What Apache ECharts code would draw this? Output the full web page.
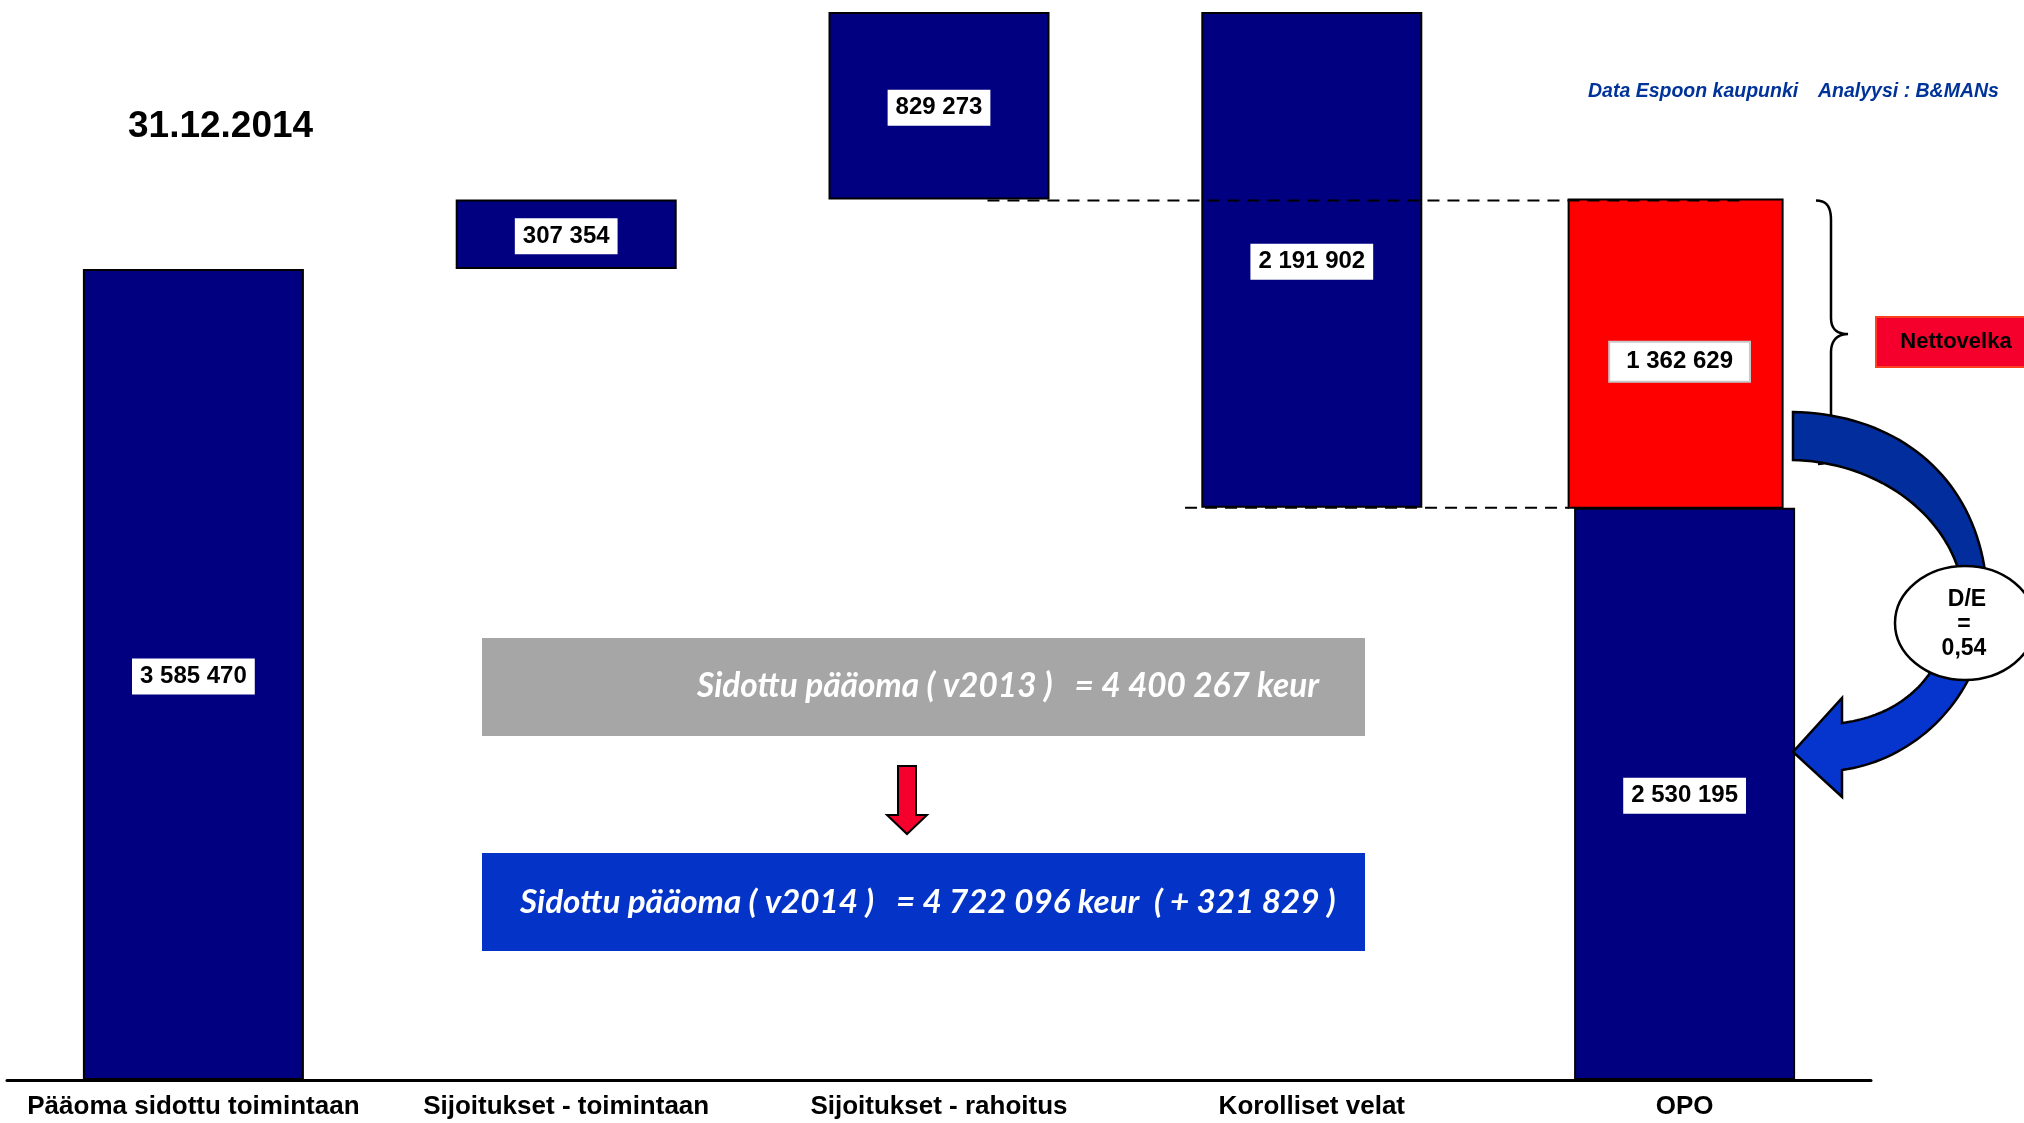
<!DOCTYPE html>
<html><head><meta charset="utf-8">
<script src="https://cdn.jsdelivr.net/npm/echarts@6/dist/echarts.min.js"></script>
<style>html,body{margin:0;padding:0;background:#fff}#c{width:2024px;height:1123px}</style>
</head><body><div id="c"></div>
<script>
// ---- data ----
const categories = ['Pääoma sidottu toimintaan', 'Sijoitukset - toimintaan', 'Sijoitukset - rahoitus', 'Korolliset velat', 'OPO'];
const stepValues = [3585470, 307354, 829273, 2191902, 2530195];
const stepTypes = ['start', 'up', 'up', 'down', 'start'];
const netDebt = [null, null, null, null, 1362629];
const dateLabel = '31.12.2014';
const sourceLabel = 'Data Espoon kaupunki';
const analysisLabel = 'Analyysi : B&MANs';
const netDebtLabel = 'Nettovelka';
const deLines = ['D/E', '=', '0,54'];
const box2013Text = 'Sidottu pääoma ( v2013 )   = 4 400 267 keur';
const box2014Text = 'Sidottu pääoma ( v2014 )   = 4 722 096 keur  ( + 321 829 )';

// ---- derived waterfall bases ----
const bases = [];
let run = 0;
stepTypes.forEach((t, i) => {
  const v = stepValues[i];
  if (t === 'start') { bases.push(0); run = v; }
  else if (t === 'up') { bases.push(run); run += v; }
  else { run -= v; bases.push(run); }
});
const tops = stepValues.map((v, i) => bases[i] + v + (netDebt[i] || 0));
const peak = Math.max(...tops);
const netDebtData = netDebt.map((v, i) => v == null ? null : [i, bases[i] + stepValues[i], v]).filter(d => d);
const fmt = v => String(v).replace(/\B(?=(\d{3})+(?!\d))/g, ' ');
const FONT = '"Liberation Sans", Arial, Helvetica, sans-serif';
const BOXFONT = 'Lato, "Open Sans", sans-serif';

const labelBase = {
  show: true, position: 'inside', formatter: p => fmt(p.value),
  backgroundColor: '#fff', color: '#000', fontFamily: FONT, fontWeight: 'bold',
  fontSize: 24, lineHeight: 24, padding: [6, 8, 6, 8], offset: [0, 2]
};

const chart = echarts.init(document.getElementById('c'), null, { renderer: 'canvas' });
chart.setOption({
  animation: false,
  backgroundColor: '#fff',
  grid: { left: 7, right: 153, top: 12, bottom: 43, containLabel: false },
  xAxis: {
    type: 'category', data: categories,
    axisLine: { lineStyle: { color: '#000', width: 3 } },
    axisTick: { show: false },
    axisLabel: { color: '#000', fontFamily: FONT, fontWeight: 'bold', fontSize: 26, margin: 14, interval: 0 }
  },
  yAxis: { type: 'value', min: 0, max: peak, show: false, splitLine: { show: false } },
  series: [
    { type: 'bar', stack: 'w', data: bases, barWidth: 221, silent: true,
      itemStyle: { color: 'rgba(0,0,0,0)', borderWidth: 0 } },
    { type: 'bar', stack: 'w', data: stepValues, barWidth: 221,
      itemStyle: { color: '#000080', borderColor: '#000', borderWidth: 2 }, label: labelBase },
    { type: 'custom', coordinateSystem: 'cartesian2d', data: netDebtData, encode: { x: 0, y: 1 }, z: 3,
      renderItem: function (params, api) {
        const idx = api.value(0), b = api.value(1), v = api.value(2);
        const p0 = api.coord([idx, b]);
        const p1 = api.coord([idx, b + v]);
        const bw = api.size([1, 0])[0] * 0.574;
        const cx = p0[0] - 9;
        return {
          type: 'group',
          children: [
            { type: 'rect', shape: { x: cx - bw / 2, y: p1[1], width: bw, height: p0[1] - p1[1] },
              style: { fill: '#ff0000', stroke: '#000', lineWidth: 2 } },
            { type: 'text', style: { text: fmt(v), x: cx + 4, y: (p0[1] + p1[1]) / 2 + 8, fill: '#000',
                fontFamily: FONT, fontWeight: 'bold', fontSize: 24, lineHeight: 24, textAlign: 'center', textVerticalAlign: 'middle',
                backgroundColor: '#fff', borderColor: '#c8c8c8', borderWidth: 2, padding: [7, 16, 7, 16] } }
          ]
        };
      }
    }
  ]
});

// ---- annotations ----
const px = (i, v) => chart.convertToPixel({ gridIndex: 0 }, [i, v]);
const band = (2024 - 7 - 153) / categories.length;
const yUpper = px(4, tops[4])[1] + 1;
const yLower = px(4, bases[4] + stepValues[4])[1];
const c2 = px(2, 0)[0], c3 = px(3, 0)[0], c4 = px(4, 0)[0];

function fitSize(text, targetW) {
  const ctx = document.createElement('canvas').getContext('2d');
  ctx.font = 'italic bold 100px ' + BOXFONT;
  return 100 * targetW / ctx.measureText(text).width;
}
const fs2013 = fitSize(box2013Text, 622);
const fs2014 = fitSize(box2014Text, 816);

function cubic(p0, p1, p2, p3, n) {
  const pts = [];
  for (let k = 0; k <= n; k++) {
    const t = k / n, u = 1 - t;
    pts.push([
      u * u * u * p0[0] + 3 * u * u * t * p1[0] + 3 * u * t * t * p2[0] + t * t * t * p3[0],
      u * u * u * p0[1] + 3 * u * u * t * p1[1] + 3 * u * t * t * p2[1] + t * t * t * p3[1]
    ]);
  }
  return pts;
}
const upperArrow = [].concat(
  cubic([1793, 412], [1900, 414], [1980, 480], [1987, 590], 40),
  cubic([1963, 590], [1953, 518], [1880, 462], [1793, 460], 40)
);
const lowerArrow = [].concat(
  cubic([1935, 665], [1915, 700], [1880, 718], [1842, 723], 30),
  [[1842, 698], [1793, 752], [1842, 797]],
  cubic([1842, 770], [1900, 762], [1952, 722], [1975, 665], 30)
);
const braceTop = yUpper;
const brace = [].concat(
  cubic([1816, braceTop], [1828, braceTop], [1831, braceTop + 8], [1831, braceTop + 20], 10),
  cubic([1831, 318], [1831, 330], [1838, 334], [1848, 334], 10),
  cubic([1848, 334], [1838, 334], [1831, 340], [1831, 352], 10),
  cubic([1831, 450], [1831, 460], [1826, 464], [1818, 464], 10)
);

const dash = { stroke: '#000', lineWidth: 2, lineDash: [12, 8] };
const txt = (text, x, y, size, extra) => ({
  type: 'text', z: 40,
  style: Object.assign({ text: text, x: x, y: y, fill: '#000', fontFamily: FONT, fontWeight: 'bold', fontSize: size, textAlign: 'center', textVerticalAlign: 'middle' }, extra || {})
});
const graphics = [
  { type: 'line', z: 10, shape: { x1: c2 + 0.13 * band, y1: yUpper, x2: c4 + 0.155 * band, y2: yUpper }, style: dash },
  { type: 'line', z: 10, shape: { x1: c3 - 0.34 * band, y1: yLower, x2: c4 - 0.31 * band, y2: yLower }, style: dash },
  txt(dateLabel, 128, 127, 37, { textAlign: 'left' }),
  txt(sourceLabel, 1588, 92, 19.5, { textAlign: 'left', fill: '#003399', fontStyle: 'italic' }),
  txt(analysisLabel, 1818, 92, 19.5, { textAlign: 'left', fill: '#003399', fontStyle: 'italic' }),
  { type: 'rect', z: 5, shape: { x: 482, y: 638, width: 883, height: 98 }, style: { fill: '#a6a6a6' } },
  txt(box2013Text, 1319, 686, fs2013, { textAlign: 'right', fill: '#fff', fontFamily: BOXFONT, fontStyle: 'italic' }),
  { type: 'rect', z: 5, shape: { x: 482, y: 853, width: 883, height: 98 }, style: { fill: '#0433c7' } },
  txt(box2014Text, 520, 902, fs2014, { textAlign: 'left', fill: '#fff', fontFamily: BOXFONT, fontStyle: 'italic' }),
  { type: 'polygon', z: 20, shape: { points: [[898, 766], [916, 766], [916, 815], [927, 815], [907, 834], [887, 815], [898, 815]] }, style: { fill: '#f5002d', stroke: '#000', lineWidth: 2 } },
  { type: 'polyline', z: 10, shape: { points: brace }, style: { fill: null, stroke: '#000', lineWidth: 2.5 } },
  { type: 'rect', z: 10, shape: { x: 1876, y: 317, width: 170, height: 50 }, style: { fill: '#f5002d', stroke: '#ff4020', lineWidth: 2 } },
  txt(netDebtLabel, 1956, 342, 22),
  { type: 'polygon', z: 20, shape: { points: upperArrow }, style: { fill: '#022d9c', stroke: '#000', lineWidth: 2.5 } },
  { type: 'polygon', z: 20, shape: { points: lowerArrow }, style: { fill: '#0535cc', stroke: '#000', lineWidth: 2.5 } },
  { type: 'ellipse', z: 30, shape: { cx: 1965, cy: 623, rx: 70, ry: 57 }, style: { fill: '#fff', stroke: '#000', lineWidth: 2.5 } },
  txt(deLines[0], 1967, 600, 23),
  txt(deLines[1], 1964, 625, 23),
  txt(deLines[2], 1964, 649, 23)
];
chart.setOption({ graphic: graphics });
</script>
</body></html>
